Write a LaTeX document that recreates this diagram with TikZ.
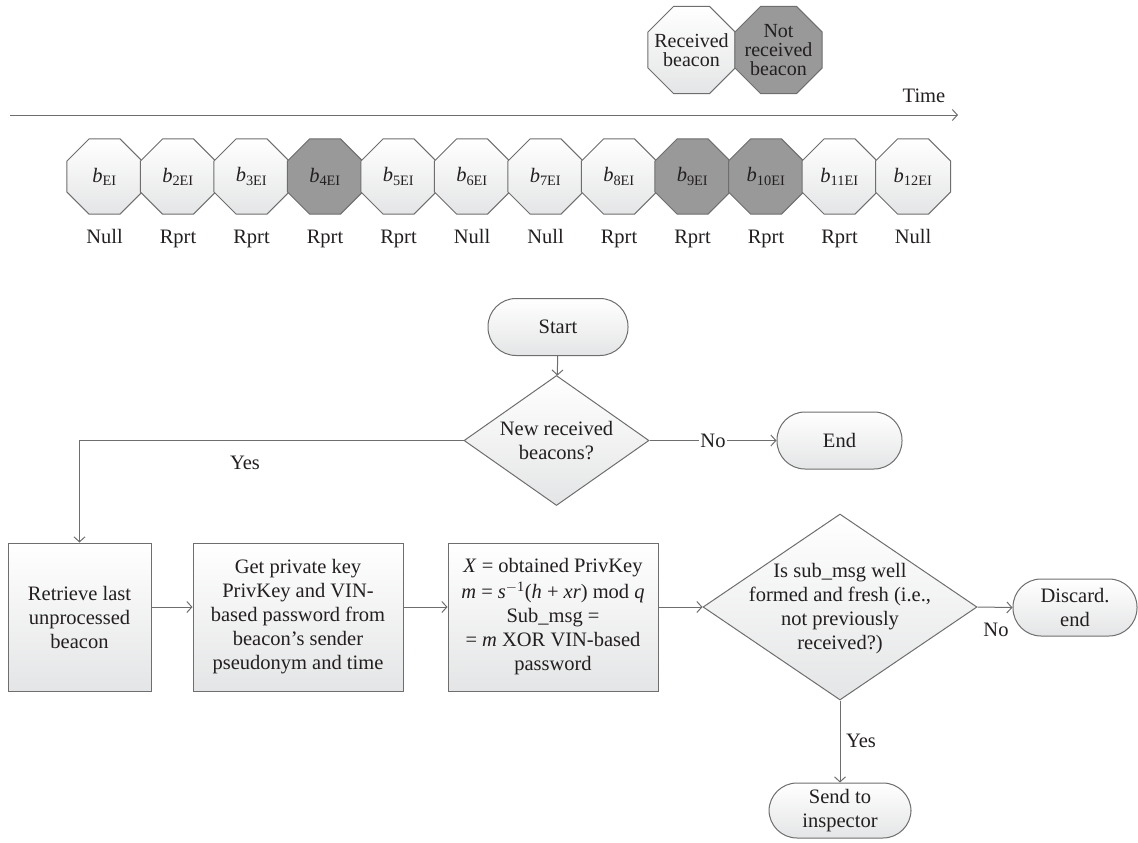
\documentclass[tikz,border=0pt]{standalone}
\usepackage{fontspec}
\setmainfont{Liberation Serif}
\usetikzlibrary{shapes.geometric,arrows.meta,calc}
\definecolor{edge}{HTML}{6E6E6E}
\definecolor{dark}{HTML}{999999}
\definecolor{ink}{HTML}{231F20}
\definecolor{lightbot}{HTML}{E4E5E6}
\newcommand{\bsym}[1]{\textit{b}\textsubscript{#1}}
\begin{document}
\begin{tikzpicture}[x=1pt,y=-1pt,
  font=\fontsize{20.5}{24}\selectfont, text=ink,
  shadelight/.style={top color=white, bottom color=lightbot},
  octbase/.style={regular polygon, regular polygon sides=8, draw=edge,
    line width=1pt, minimum size=81.2pt, inner sep=0pt},
  octl/.style={octbase, shadelight},
  octd/.style={octbase, fill=dark},
  procbox/.style={rectangle, draw=edge, line width=1pt, shadelight,
    align=center, inner sep=0pt, minimum height=148pt},
  term/.style={rectangle, rounded corners=28pt, draw=edge, line width=1pt,
    shadelight, minimum height=57pt, align=center, inner sep=0pt},
  decision/.style={diamond, draw=edge, line width=1pt, shadelight, inner sep=0pt},
  flow/.style={draw=edge, line width=1pt, -{Straight Barb[length=5pt,width=11pt]}},
  legendtxt/.style={align=center, font=\fontsize{20}{19}\selectfont, inner sep=0pt}
]
\useasboundingbox (0,0) rectangle (1138,843);

% legend
\node[octl, minimum size=94.2pt] (leg1) at (691.5,50) {};
\node[octd, minimum size=94.2pt] (leg2) at (778.5,50) {};
\node[legendtxt] (leg1t) at (leg1) {Received\\beacon};
\node[legendtxt] (leg2t) at (leg2) {Not\\received\\beacon};

% time axis
\coordinate (t0) at (10,115);
\coordinate (t1) at (958,115);
\draw[flow] (t0) -- (t1);
\node[inner sep=0pt] (time) at (924,96) {Time};

% beacon row
\foreach \i/\sub/\lab/\sty in {1/EI/Null/octl, 2/2EI/Rprt/octl, 3/3EI/Rprt/octl,
    4/4EI/Rprt/octd, 5/5EI/Rprt/octl, 6/6EI/Null/octl, 7/7EI/Null/octl,
    8/8EI/Rprt/octl, 9/9EI/Rprt/octd, 10/10EI/Rprt/octd, 11/11EI/Rprt/octl,
    12/12EI/Null/octl}{
  \node[\sty] (b\i) at ({104.5+73.5*(\i-1)},176.5) {\bsym{\sub}};
  \node[anchor=base, inner sep=0pt] (r\i) at ({104.5+73.5*(\i-1)},243) {\lab};
}

% flowchart
\node[term, minimum width=140pt] (start) at (558,327) {Start};
\node[decision, minimum width=185pt, minimum height=130pt] (d1) at (556.5,440.5) {};
\node[align=center, inner sep=0pt] (d1t) at (d1) {New received\\beacons?};
\node[term, minimum width=125pt] (end) at (839.5,440.5) {End};

\node[procbox, minimum width=143pt] (p1) at (79.5,617)
  {Retrieve last\\unprocessed\\beacon};
\node[procbox, minimum width=210pt] (p2) at (298,617)
  {Get private key\\PrivKey and VIN-\\based password from\\beacon's sender\\pseudonym and time};
\node[procbox, minimum width=210pt] (p3) at (553,617)
  {\textit{X} = obtained PrivKey\\[2pt]
   \textit{m} = \textit{s}\textsuperscript{$-$1}(\textit{h} + \textit{xr}) mod \textit{q}\\
   Sub\_msg =\\= \textit{m} XOR VIN-based\\password};

\node[decision, minimum width=274pt, minimum height=186pt] (d2) at (840,607) {};
\node[align=center, inner sep=0pt] (d2t) at (840,609)
  {Is sub\_msg well\\formed and fresh (i.e.,\\not previously\\received?)};
\node[term, minimum width=124pt] (disc) at (1075,607.5) {Discard.\\end};
\node[term, minimum width=142pt, minimum height=55pt] (send) at (840,810.5) {Send to\\inspector};

% connectors
\draw[flow] (start) -- (d1);
\draw[flow] (d1) -- node[fill=white, inner sep=1pt] (no1) {No} (end);
\draw[flow] (d1.west) -| (p1.north);
\node[inner sep=0pt] (yes1) at (245,463) {Yes};
\draw[flow] (p1.east |- d2.west) -- (p2.west |- d2.west);
\draw[flow] (p2.east |- d2.west) -- (p3.west |- d2.west);
\draw[flow] (p3.east |- d2.west) -- (d2.west);
\draw[flow] (d2.east) -- (disc.west);
\node[inner sep=0pt] (no2) at (996,630) {No};
\draw[flow] (d2.south) -- (send.north);
\node[inner sep=0pt] (yes2) at (861,741) {Yes};
\end{tikzpicture}
\end{document}
